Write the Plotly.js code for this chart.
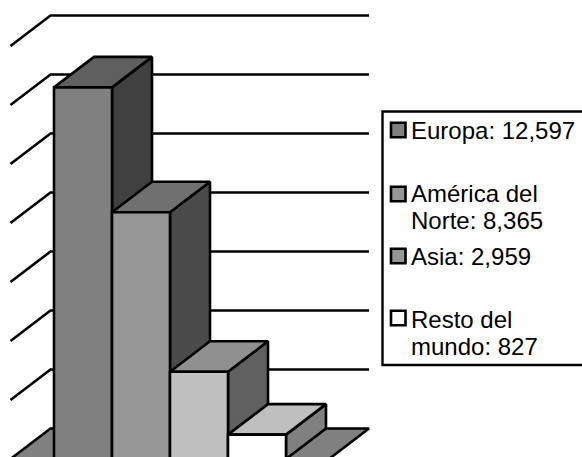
<!DOCTYPE html>
<html><head><meta charset="utf-8">
<script src="https://cdn.plot.ly/plotly-3.0.1.min.js"></script>
<style>html,body{margin:0;padding:0;background:#fff;overflow:hidden}</style>
</head><body><div id="chart" style="width:582px;height:457px"></div>
<script>
const categories = ["Europa", "América del Norte", "Asia", "Resto del mundo"];
const values = [12597, 8365, 2959, 827];
const legendLines = [["Europa: 12,597"], ["América del", "Norte: 8,365"], ["Asia: 2,959"], ["Resto del", "mundo: 827"]];
const gridValues = [2000, 4000, 6000, 8000, 10000, 12000, 14000];
const frontColors = ["#808080", "#969696", "#c0c0c0", "#ffffff"];
const topColors = ["#5f5f5f", "#707070", "#909090", "#bfbfbf"];
const sideColors = ["#404040", "#4b4b4b", "#606060", "#808080"];
const legendColors = ["#808080", "#969696", "#969696", "#ffffff"];

// Pixel calibration of the value and category scales
const W = 582, H = 457;
const pxPerValue = 0.0295, pxPerCat = 58, y0px = 459, x0px = 54;
const dx = 40 / pxPerCat, dy = 30.5 / pxPerValue;
const px = p => (p - x0px) / pxPerCat;
const wallL = px(50.5), wallR = px(369), frontL = px(10.5);

const xr = [px(0), px(W)], yr = [(y0px - H) / pxPerValue, y0px / pxPerValue];
const traces = [];
const BLACK = "#000", LW = 2.6;
const poly = (xs, ys, fill) => ({
  type: "scatter", mode: "lines", x: [...xs, xs[0]], y: [...ys, ys[0]],
  fill: "toself", fillcolor: fill, line: {color: BLACK, width: LW, simplify: false},
  hoverinfo: "skip", showlegend: false
});
// floor
traces.push(poly([frontL, wallL, wallR, wallR - dx], [0, dy, dy, 0], "#808080"));
// grid lines across the side wall and back wall
gridValues.forEach(v => traces.push({
  type: "scatter", mode: "lines", x: [frontL, wallL, wallR], y: [v, v + dy, v + dy],
  line: {color: BLACK, width: LW}, hoverinfo: "skip", showlegend: false
}));
// bar sides and tops
values.forEach((v, i) => {
  const l = i, r = i + 1;
  traces.push(poly([r, r + dx, r + dx, r], [0, dy, v + dy, v], sideColors[i]));
  traces.push(poly([l, l + dx, r + dx, r], [v, v + dy, v + dy, v], topColors[i]));
});
// bar fronts (overlay axes so they sit above the depth faces)
traces.push({
  type: "bar", x: categories.map((c, i) => i + 0.5), y: values, width: 1,
  xaxis: "x2", yaxis: "y2", text: categories, hoverinfo: "text",
  marker: {color: frontColors, line: {color: BLACK, width: LW}}, showlegend: false, textposition: "none"
});

const ax = r => ({range: r, visible: false, fixedrange: true});
const shapes = [{
  type: "rect", xref: "paper", yref: "paper", x0: 382.5 / W, x1: 584 / W, y0: 1 - 365 / H, y1: 1 - 111.5 / H,
  line: {color: BLACK, width: 2.4}, fillcolor: "#fff", layer: "above"
}];
const rowCenters = [[130.5], [193.5, 220.5], [256], [319, 346.5]];
const swatchCenters = [130, 194, 256, 318];
const annotations = [];
legendLines.forEach((lines, i) => {
  lines.forEach((t, j) => annotations.push({
    text: t, xref: "paper", yref: "paper", x: 410 / W, y: 1 - rowCenters[i][j] / H,
    xanchor: "left", yanchor: "middle", align: "left", showarrow: false, borderpad: 0,
    font: {family: "Liberation Sans, Arial, sans-serif", size: 24, color: "#000"}
  }));
  const c = swatchCenters[i];
  shapes.push({
    type: "rect", xref: "paper", yref: "paper", x0: 391 / W, x1: 405.5 / W, y0: 1 - (c + 7.25) / H, y1: 1 - (c - 7.25) / H,
    line: {color: BLACK, width: 2.6}, fillcolor: legendColors[i], layer: "above"
  });
});
Plotly.newPlot("chart", traces, {
  width: W, height: H, margin: {l: 0, r: 0, t: 0, b: 0}, paper_bgcolor: "#fff", plot_bgcolor: "rgba(0,0,0,0)",
  showlegend: false, barmode: "overlay",
  xaxis: ax(xr), yaxis: ax(yr),
  xaxis2: {...ax(xr), overlaying: "x"}, yaxis2: {...ax(yr), overlaying: "y"},
  shapes, annotations
}, {staticPlot: true, displayModeBar: false});
</script></body></html>
